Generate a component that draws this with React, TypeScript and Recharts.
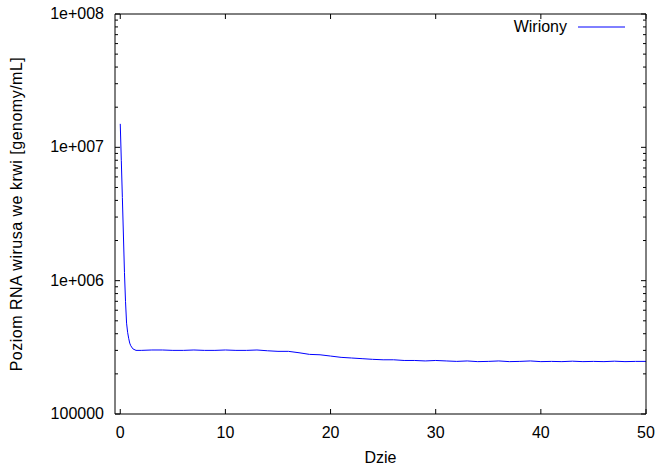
import React from 'react';
import { LineChart, Line, XAxis, YAxis } from 'recharts';

// days since start of treatment
const days = [
  0, 0.1, 0.2, 0.3, 0.4, 0.5, 0.6, 0.7, 0.8, 0.9, 1.0, 1.2, 1.5, 2, 3, 4, 5, 6, 7, 8, 9, 10, 11, 12, 13,
  14, 15, 16, 17, 18, 19, 20, 21, 22, 23, 24, 25, 26, 27, 28, 29, 30, 31, 32, 33, 34, 35, 36, 37, 38,
  39, 40, 41, 42, 43, 44, 45, 46, 47, 48, 49, 50,
];

// virions [genomy/mL]
const virions = [
  1.5e7, 8.0e6, 4.2e6, 2.2e6, 1.15e6, 7.0e5, 4.8e5, 4.1e5, 3.7e5, 3.4e5, 3.25e5, 3.08e5, 3.0e5, 3.0e5,
  3.02e5, 3.02e5, 3.0e5, 3.0e5, 3.02e5, 3.0e5, 3.0e5, 3.02e5, 3.0e5, 3.0e5, 3.02e5, 2.98e5, 2.95e5,
  2.95e5, 2.88e5, 2.8e5, 2.78e5, 2.72e5, 2.66e5, 2.63e5, 2.6e5, 2.57e5, 2.55e5, 2.55e5, 2.52e5, 2.52e5,
  2.5e5, 2.52e5, 2.5e5, 2.48e5, 2.5e5, 2.47e5, 2.48e5, 2.5e5, 2.47e5, 2.48e5, 2.5e5, 2.47e5, 2.48e5,
  2.47e5, 2.49e5, 2.47e5, 2.48e5, 2.47e5, 2.49e5, 2.47e5, 2.48e5, 2.48e5,
];

const xTicks = [0, 10, 20, 30, 40, 50];
const yMajor = [1e5, 1e6, 1e7, 1e8];
const yMajorLabels = ['100000', '1e+006', '1e+007', '1e+008'];
const yTicks = [1, 10, 100]
  .flatMap((d) => [2, 3, 4, 5, 6, 7, 8, 9].map((m) => m * d * 1e5))
  .concat(yMajor)
  .sort((a, b) => a - b);

const data = days.map((d, i) => ({ day: d, v: virions[i] }));

const FONT = 'Liberation Sans, Arial, sans-serif';

function BottomTick(props: any) {
  const { x, y, payload } = props;
  return (
    <g>
      <line x1={x} y1={y} x2={x} y2={y - 5} stroke="#000" />
      <text x={x} y={y + 24} textAnchor="middle" fontSize={16} fontFamily={FONT} fill="#000">
        {payload.value}
      </text>
    </g>
  );
}

function TopTick(props: any) {
  const { x, y } = props;
  return <line x1={x} y1={y} x2={x} y2={y + 5} stroke="#000" />;
}

function LeftTick(props: any) {
  const { x, y, payload } = props;
  const idx = yMajor.indexOf(payload.value);
  const len = idx >= 0 ? 5 : 3;
  return (
    <g>
      <line x1={x} y1={y} x2={x + len} y2={y} stroke="#000" />
      {idx >= 0 && (
        <text x={x - 11} y={y + 5} textAnchor="end" fontSize={16} fontFamily={FONT} fill="#000">
          {yMajorLabels[idx]}
        </text>
      )}
    </g>
  );
}

function RightTick(props: any) {
  const { x, y, payload } = props;
  const len = yMajor.indexOf(payload.value) >= 0 ? 5 : 3;
  return <line x1={x} y1={y} x2={x - len} y2={y} stroke="#000" />;
}

export default function App() {
  return (
    <div style={{ position: 'relative', width: 658, height: 467, background: '#fff' }}>
      <style>{`body{margin:0}`}</style>
      <LineChart width={658} height={467} data={data} margin={{ top: 13, right: 11, bottom: 0, left: 0 }}>
        <XAxis
          dataKey="day"
          type="number"
          domain={[-0.5, 50]}
          ticks={xTicks}
          allowDataOverflow
          height={53}
          tickSize={0}
          tickMargin={0}
          axisLine={{ stroke: '#000' }}
          tickLine={false}
          tick={<BottomTick />}
          interval={0}
          label={{ value: 'Dzie', position: 'insideBottom', offset: 4, fontSize: 16, fontFamily: FONT, fill: '#000' }}
        />
        <XAxis
          xAxisId="top"
          orientation="top"
          dataKey="day"
          type="number"
          domain={[-0.5, 50]}
          ticks={xTicks}
          allowDataOverflow
          height={1}
          tickSize={0}
          tickMargin={0}
          axisLine={{ stroke: '#000' }}
          tickLine={false}
          tick={<TopTick />}
          interval={0}
        />
        <YAxis
          scale="log"
          domain={[1e5, 1e8]}
          ticks={yTicks}
          allowDataOverflow
          width={115}
          tickSize={0}
          tickMargin={0}
          axisLine={{ stroke: '#000' }}
          tickLine={false}
          tick={<LeftTick />}
          interval={0}
          label={{
            value: 'Poziom RNA wirusa we krwi [genomy/mL]',
            angle: -90,
            position: 'insideLeft',
            offset: 0,
            dx: 16,
            fontSize: 16,
            fontFamily: FONT,
            fill: '#000',
            style: { textAnchor: 'middle', letterSpacing: 0.5 },
          }}
        />
        <YAxis
          yAxisId="right"
          orientation="right"
          scale="log"
          domain={[1e5, 1e8]}
          ticks={yTicks}
          allowDataOverflow
          width={1}
          tickSize={0}
          tickMargin={0}
          axisLine={{ stroke: '#000' }}
          tickLine={false}
          tick={<RightTick />}
          interval={0}
        />
        <Line
          type="linear"
          dataKey="v"
          stroke="#0000ff"
          strokeWidth={1}
          dot={false}
          isAnimationActive={false}
        />
      </LineChart>
      <svg width={150} height={24} style={{ position: 'absolute', left: 480, top: 14 }}>
        <text x={87} y={18} textAnchor="end" fontSize={16} fontFamily={FONT} fill="#000">
          Wiriony
        </text>
        <line x1={98} y1={13} x2={145} y2={13} stroke="#0000ff" strokeWidth={1} />
      </svg>
    </div>
  );
}
